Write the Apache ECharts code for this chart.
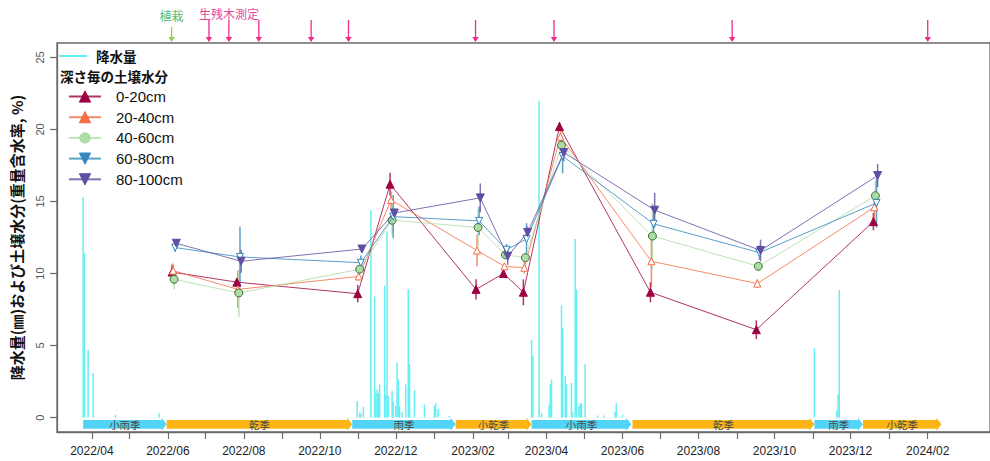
<!DOCTYPE html>
<html>
<head>
<meta charset="utf-8">
<script src="https://cdn.jsdelivr.net/npm/echarts@6/dist/echarts.min.js"></script>
<style>
  html, body { margin: 0; padding: 0; background: #fff; }
  #chart { width: 990px; height: 461px; }
</style>
</head>
<body>
<div id="chart"></div>
<script>
// 日付
const DAY = 864e5
const d = (s) => new Date(s + 'T00:00:00').getTime()

// x軸の目盛ラベル (2か月毎)
const xTickLabels = ['2022/04', '2022/06', '2022/08', '2022/10', '2022/12', '2023/02',
  '2023/04', '2023/06', '2023/08', '2023/10', '2023/12', '2024/02']
const yTickValues = [0, 5, 10, 15, 20, 25]

// 日降水量 (mm)
const rainDates = ['2022-03-25', '2022-03-26', '2022-03-29', '2022-04-02', '2022-04-20', '2022-05-25',
  '2022-10-31', '2022-11-02', '2022-11-03', '2022-11-05', '2022-11-11', '2022-11-14', '2022-11-15',
  '2022-11-16', '2022-11-17', '2022-11-18', '2022-11-22', '2022-11-23', '2022-11-24', '2022-11-25',
  '2022-11-28', '2022-11-29', '2022-12-01', '2022-12-02', '2022-12-03', '2022-12-04', '2022-12-06',
  '2022-12-09', '2022-12-11', '2022-12-12', '2022-12-16', '2022-12-24', '2023-01-01', '2023-01-02',
  '2023-01-04', '2023-01-13',
  '2023-03-20', '2023-03-21', '2023-03-26', '2023-03-28', '2023-04-03', '2023-04-04', '2023-04-05',
  '2023-04-13', '2023-04-14', '2023-04-16', '2023-04-17', '2023-04-21', '2023-04-22', '2023-04-24',
  '2023-04-25', '2023-04-27', '2023-04-28', '2023-04-29', '2023-05-02', '2023-05-12', '2023-05-17',
  '2023-05-26', '2023-05-27', '2023-06-01',
  '2023-11-02', '2023-11-20', '2023-11-21', '2023-11-22']
const rainValues = [15.3, 11.4, 4.7, 3.1, 0.2, 0.3,
  1.15, 0.35, 0.3, 0.76, 14.4, 8.4, 1.7,
  1.95, 1.7, 2.3, 9.15, 1.6, 12.9, 1.5,
  1.85, 1.1, 0.8, 3.8, 2.65, 0.8, 0.4,
  2.3, 8.9, 3.7, 1.9, 0.9, 0.8, 1.0,
  0.6, 0.1,
  5.4, 4.3, 22.0, 0.3, 0.9, 2.3, 2.65,
  7.8, 6.2, 2.9, 2.3, 2.4, 0.4, 12.4,
  8.9, 0.8, 1.0, 1.0, 3.7, 0.15, 0.15,
  0.4, 1.0, 0.2,
  4.8, 0.5, 1.6, 8.85]

// 土壌水分 測定日
const soilDates = ['2022-06-06', '2022-07-28', '2022-11-02', '2022-11-28', '2023-02-05', '2023-02-27',
  '2023-03-15', '2023-04-13', '2023-06-25', '2023-09-18', '2023-12-21']
// 深さ毎の平均値 (重量含水率, %)
const soil0_20 = [10.1, 9.4, 8.6, 16.2, 8.9, 10.0, 8.7, 20.2, 8.7, 6.1, 13.6]
const soil20_40 = [10.2, 8.9, 9.8, 15.1, 11.6, 10.5, 10.4, 19.5, 10.85, 9.3, 14.6]
const soil40_60 = [9.6, 8.65, 10.3, 13.7, 13.2, 11.3, 11.1, 18.9, 12.6, 10.5, 15.4]
const soil60_80 = [11.8, 11.15, 10.75, 13.95, 13.65, 11.65, 12.4, 18.15, 13.45, 11.45, 14.9]
const soil80_100 = [12.1, 10.85, 11.7, 14.2, 15.25, 11.2, 12.85, 18.4, 14.4, 11.6, 16.8]
// 標準偏差
const sd0_20 = [0.5, 0.3, 0.6, 0.8, 0.7, 0.3, 0.9, 0.3, 0.7, 0.65, 0.6]
const sd20_40 = [0.5, 1.3, 0.3, 0.6, 1.1, 0.2, 0.4, 0.6, 1.8, 0.3, 1.0]
const sd40_60 = [0.7, 1.65, 0.2, 1.0, 1.3, 0.3, 0.3, 0.6, 2.3, 0.3, 1.0]
const sd60_80 = [0.3, 2.1, 0.5, 1.5, 1.0, 0.4, 1.1, 1.2, 0.8, 0.5, 1.7]
const sd80_100 = [0.3, 0.8, 0.2, 0.3, 1.0, 0.6, 0.4, 0.6, 1.2, 0.75, 0.8]

// 季節区分
const seasonStarts = ['2022-03-25', '2022-05-31', '2022-10-27', '2023-01-18', '2023-03-20', '2023-06-09', '2023-11-02', '2023-12-11']
const seasonEnds = ['2022-05-31', '2022-10-27', '2023-01-18', '2023-03-20', '2023-06-08', '2023-11-02', '2023-12-11', '2024-02-12']
const seasonNames = ['小雨季', '乾季', '雨季', '小乾季', '小雨季', '乾季', '雨季', '小乾季']

// 上部の注記
const plantDates = ['2022-06-04']
const surveyDates = ['2022-07-04', '2022-07-20', '2022-08-13', '2022-09-24', '2022-10-24',
  '2023-02-03', '2023-04-07', '2023-08-28', '2024-02-01']

const FONT = "'Liberation Sans', 'Noto Sans CJK JP', sans-serif"
const CJK = "'Noto Sans CJK JP', 'Liberation Sans', sans-serif"
const X_MIN = d('2022-03-04')
const X_MAX = d('2024-03-22')

// 月毎の目盛
const monthTicks = []
for (let y = 2022, m = 3; y < 2024 || m <= 1; m++) {
  if (m > 11) { m = 0; y++ }
  monthTicks.push(new Date(y, m, 1).getTime())
}
const labelTicks = xTickLabels.map((s) => d(s.replace('/', '-') + '-01'))

const depths = [
  { name: '0-20cm', mean: soil0_20, sd: sd0_20, color: '#9E0142', symbol: 'triangle', rotate: 0, fill: '#9E0142', size: 8, jitter: -1.6 },
  { name: '20-40cm', mean: soil20_40, sd: sd20_40, color: '#F46D43', symbol: 'triangle', rotate: 0, fill: '#fff', size: 7, jitter: -0.8 },
  { name: '40-60cm', mean: soil40_60, sd: sd40_60, color: '#ABDDA4', symbol: 'circle', rotate: 0, fill: '#ABDDA4', size: 8, jitter: 0 },
  { name: '60-80cm', mean: soil60_80, sd: sd60_80, color: '#3288BD', symbol: 'triangle', rotate: 180, fill: '#fff', size: 7, jitter: 0.9 },
  { name: '80-100cm', mean: soil80_100, sd: sd80_100, color: '#5E4FA2', symbol: 'triangle', rotate: 180, fill: '#5E4FA2', size: 8, jitter: 1.8 }
]

const series = []

// 降水量
series.push({
  name: '降水量',
  type: 'bar',
  barWidth: 1.5,
  itemStyle: { color: '#66eff2' },
  data: rainDates.map((s, i) => [d(s), rainValues[i]]),
  z: 1
})

// 季節の矢印
series.push({
  type: 'custom',
  data: seasonStarts.map((s, i) => [d(s), d(seasonEnds[i]), i]),
  renderItem: (params, api) => {
    const yv = -0.47
    const a = api.coord([api.value(0), yv])
    const b = api.coord([api.value(1), yv])
    const name = seasonNames[api.value(2)]
    const color = name.indexOf('雨') >= 0 ? '#52d4f6' : '#fcb514'
    const h = 4.3, hh = 6.5, hl = 5
    return {
      type: 'group',
      children: [
        {
          type: 'polygon',
          shape: {
            points: [[a[0], a[1] - h], [b[0] - hl, a[1] - h], [b[0] - hl, a[1] - hh], [b[0], a[1]],
              [b[0] - hl, a[1] + hh], [b[0] - hl, a[1] + h], [a[0], a[1] + h]]
          },
          style: { fill: color }
        },
        {
          type: 'text',
          style: {
            text: name, x: (a[0] + b[0]) / 2, y: a[1] + 0.5, align: 'center', verticalAlign: 'middle',
            fill: '#4a4a4a', font: '10.5px ' + CJK
          }
        }
      ]
    }
  },
  z: 2
})

// 土壌水分
depths.forEach((dp, k) => {
  const pts = soilDates.map((s, i) => [d(s) + dp.jitter * DAY, dp.mean[i], dp.sd[i]])
  series.push({
    type: 'custom',
    name: dp.name + '_sd',
    data: pts,
    renderItem: (params, api) => {
      const lo = api.coord([api.value(0), api.value(1) - api.value(2)])
      const hi = api.coord([api.value(0), api.value(1) + api.value(2)])
      return {
        type: 'line',
        shape: { x1: lo[0], y1: lo[1], x2: hi[0], y2: hi[1] },
        style: { stroke: dp.color, lineWidth: 1.5, opacity: 0.8 }
      }
    },
    z: 3
  })
  series.push({
    name: dp.name,
    type: 'line',
    data: pts.map((p) => [p[0], p[1]]),
    symbol: dp.symbol,
    symbolRotate: dp.rotate,
    symbolSize: dp.size,
    showAllSymbol: true,
    lineStyle: { color: dp.color, width: 1, opacity: 0.8 },
    itemStyle: {
      color: dp.fill,
      borderColor: dp.symbol === 'circle' ? '#3f6e38' : dp.color,
      borderWidth: 1
    },
    emphasis: { disabled: true },
    z: 4 + k
  })
})

// 上部の注記 (植栽・生残木測定)
const annoData = plantDates.map((s) => [d(s), 0, 0]).concat(surveyDates.map((s, i) => [d(s), 1, i]))
series.push({
  type: 'custom',
  xAxisIndex: 1,
  yAxisIndex: 1,
  data: annoData,
  renderItem: (params, api) => {
    const p = api.coord([api.value(0), 0])
    const plant = api.value(1) === 0
    const color = plant ? '#8fd14f' : '#ec2b8c'
    const len = plant ? 15 : 22
    const children = [
      { type: 'line', shape: { x1: p[0], y1: p[1] - len, x2: p[0], y2: p[1] - 4 }, style: { stroke: color, lineWidth: 1.3 } },
      { type: 'polygon', shape: { points: [[p[0] - 3.2, p[1] - 5], [p[0] + 3.2, p[1] - 5], [p[0], p[1]]] }, style: { fill: color } }
    ]
    if (plant) {
      children.push({ type: 'text', style: { text: '植栽', x: p[0], y: p[1] - 27, align: 'center', verticalAlign: 'middle', fill: '#4dbd74', font: '12px ' + CJK } })
    } else if (api.value(2) === 1) {
      children.push({ type: 'text', style: { text: '生残木測定', x: p[0], y: p[1] - 29, align: 'center', verticalAlign: 'middle', fill: '#e2489a', font: '12px ' + CJK } })
    }
    return { type: 'group', children: children }
  }
})

const legendSoil = depths.map((dp) => ({
  name: dp.name,
  itemStyle: { color: dp.color, borderColor: dp.color, borderWidth: dp.symbol === 'circle' ? 0 : 1 }
}))

const option = {
  backgroundColor: '#fff',
  animation: false,
  textStyle: { fontFamily: FONT },
  title: {
    text: '深さ毎の土壌水分',
    left: 60,
    top: 68.5,
    padding: 0,
    textStyle: { fontSize: 13.5, fontWeight: 'bold', color: '#111', fontFamily: CJK, lineHeight: 14 }
  },
  legend: [
    {
      data: [{ name: '降水量', icon: 'rect' }],
      left: 59,
      top: 49,
      padding: 0,
      itemWidth: 28,
      itemHeight: 2,
      selectedMode: false,
      textStyle: { fontSize: 13.5, fontWeight: 'bold', color: '#111', fontFamily: CJK, padding: [0, 0, 0, 4], lineHeight: 14 }
    },
    {
      data: legendSoil,
      orient: 'vertical',
      left: 68,
      top: 89,
      padding: 0,
      itemWidth: 32,
      itemHeight: 14,
      itemGap: 5.7,
      selectedMode: false,
      textStyle: { fontSize: 15, color: '#111', fontFamily: FONT, padding: [0, 0, 0, 10], lineHeight: 14 }
    }
  ],
  grid: [
    { left: 57, right: -2, top: 43, bottom: 29, show: true, borderColor: '#6b6b6b', borderWidth: 1.3, backgroundColor: 'transparent' },
    { left: 57, right: -2, top: 0, height: 42 }
  ],
  xAxis: [
    {
      type: 'value',
      min: X_MIN,
      max: X_MAX,
      gridIndex: 0,
      splitLine: { show: false },
      axisLine: { show: true, onZero: false, lineStyle: { color: '#6b6b6b', width: 1.3 } },
      axisTick: { show: true, length: 7, customValues: monthTicks, lineStyle: { color: '#6b6b6b', width: 1.2 } },
      axisLabel: {
        customValues: labelTicks,
        margin: 13,
        fontSize: 12,
        color: '#222',
        fontFamily: FONT,
        formatter: (v) => {
          const t = new Date(v)
          return t.getFullYear() + '/' + String(t.getMonth() + 1).padStart(2, '0')
        }
      }
    },
    { type: 'value', min: X_MIN, max: X_MAX, gridIndex: 1, show: false }
  ],
  yAxis: [
    {
      type: 'value',
      min: -1,
      max: 26,
      gridIndex: 0,
      name: '降水量(㎜)および土壌水分(重量含水率, %)',
      nameLocation: 'middle',
      nameGap: 33,
      nameRotate: 90,
      nameTextStyle: { fontSize: 15, fontWeight: 'bold', color: '#111', fontFamily: CJK },
      splitLine: { show: false },
      axisLine: { show: true, lineStyle: { color: '#6b6b6b', width: 1.3 } },
      axisTick: { show: true, length: 7, customValues: yTickValues, lineStyle: { color: '#6b6b6b', width: 1.2 } },
      axisLabel: { customValues: yTickValues, rotate: 90, margin: 12, fontSize: 11, color: '#555', fontFamily: FONT }
    },
    { type: 'value', min: 0, max: 1, gridIndex: 1, show: false }
  ],
  series: series
}

const chart = echarts.init(document.getElementById('chart'), null, { renderer: 'svg' })
chart.setOption(option)
</script>
</body>
</html>
